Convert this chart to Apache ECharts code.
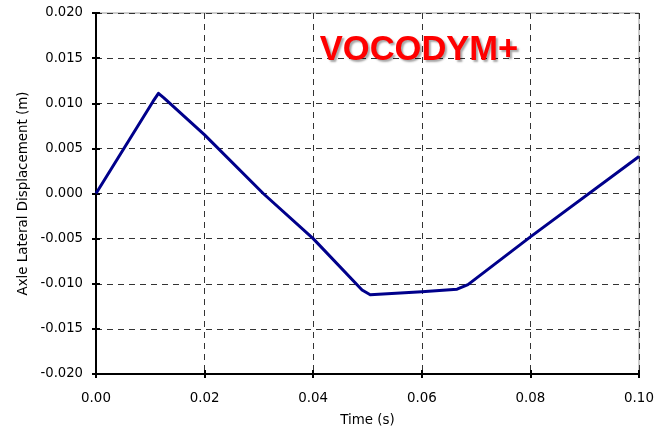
<!DOCTYPE html>
<html>
<head>
<meta charset="utf-8">
<script src="https://cdn.jsdelivr.net/npm/echarts@6/dist/echarts.min.js"></script>
<style>html,body{margin:0;padding:0;background:#fff;}#c{width:657px;height:438px;}</style>
</head>
<body>
<div id="c"></div>
<script>
const timeValues = [0, 0.0105, 0.0115, 0.0125, 0.02, 0.0308, 0.04, 0.049, 0.0505, 0.06, 0.0665, 0.0685, 0.08, 0.1];
const displacementValues = [0, 0.0102, 0.0111, 0.0106, 0.0065, 0, -0.005, -0.0107, -0.01122, -0.0109, -0.0106, -0.0101, -0.0048, 0.0041];
const xTicks = [0, 0.02, 0.04, 0.06, 0.08, 0.1];
const yTicks = [-0.02, -0.015, -0.01, -0.005, 0, 0.005, 0.01, 0.015, 0.02];
const titleText = 'VOCODYM+';
const xName = 'Time (s)';
const yName = 'Axle Lateral Displacement (m)';

const chart = echarts.init(document.getElementById('c'), null, {renderer: 'canvas'});
const font = '"DejaVu Sans", Arial, sans-serif';
const titleFont = 'Arial, "Liberation Sans", sans-serif';
const data = timeValues.map((t, i) => [t, displacementValues[i]]);

const baseX = {
  type: 'value', min: xTicks[0], max: xTicks[xTicks.length - 1], interval: 0.02, gridIndex: 0
};
const baseY = {
  type: 'value', min: yTicks[0], max: yTicks[yTicks.length - 1], interval: 0.005, gridIndex: 0
};

chart.setOption({
  animation: false,
  backgroundColor: '#fff',
  title: {
    text: titleText,
    left: 414, top: 28, textAlign: 'center',
    textStyle: {
      color: '#ff0000', fontSize: 34.5, fontWeight: 'bold', fontFamily: titleFont,
      textShadowColor: 'rgba(0,0,0,0.35)', textShadowBlur: 2, textShadowOffsetX: 2, textShadowOffsetY: 2
    }
  },
  grid: {left: 96, right: 18, top: 13, bottom: 64, show: true, borderColor: '#999', borderWidth: 1, backgroundColor: 'transparent'},
  xAxis: [
    Object.assign({}, baseX, {
      position: 'bottom',
      name: xName, nameLocation: 'middle', nameGap: 40,
      nameTextStyle: {color: '#000', fontSize: 13.4, fontFamily: font},
      axisLine: {show: true, onZero: false, lineStyle: {color: '#000', width: 2}},
      axisTick: {show: true, inside: false, length: 4, lineStyle: {color: '#000', width: 2}},
      axisLabel: {color: '#000', fontSize: 13.4, fontFamily: font, margin: 18,
        formatter: v => v.toFixed(2)},
      splitLine: {show: true, lineStyle: {color: '#333', type: [6, 5], width: 1}}
    }),
    Object.assign({}, baseX, {
      position: 'bottom',
      axisLine: {show: false, onZero: false},
      axisTick: {show: true, inside: true, length: 4, lineStyle: {color: '#000', width: 2}},
      axisLabel: {show: false},
      splitLine: {show: false}
    })
  ],
  yAxis: [
    Object.assign({}, baseY, {
      position: 'left',
      name: yName, nameLocation: 'middle', nameGap: 62, nameRotate: 90,
      nameTextStyle: {color: '#000', fontSize: 13.4, fontFamily: font},
      axisLine: {show: true, onZero: false, lineStyle: {color: '#000', width: 2}},
      axisTick: {show: true, inside: false, length: 4, lineStyle: {color: '#000', width: 2}},
      axisLabel: {color: '#000', fontSize: 13.2, fontFamily: font, margin: 13,
        formatter: v => v.toFixed(3)},
      splitLine: {show: true, lineStyle: {color: '#333', type: [6, 5], width: 1}}
    }),
    Object.assign({}, baseY, {
      position: 'left',
      axisLine: {show: false, onZero: false},
      axisTick: {show: true, inside: true, length: 4, lineStyle: {color: '#000', width: 2}},
      axisLabel: {show: false},
      splitLine: {show: false}
    })
  ],
  series: [{
    type: 'line',
    data: data,
    xAxisIndex: 0, yAxisIndex: 0,
    showSymbol: false,
    symbol: 'none',
    smooth: false,
    lineStyle: {color: '#00008b', width: 3, join: 'round'},
    z: 5
  }]
});
</script>
</body>
</html>
